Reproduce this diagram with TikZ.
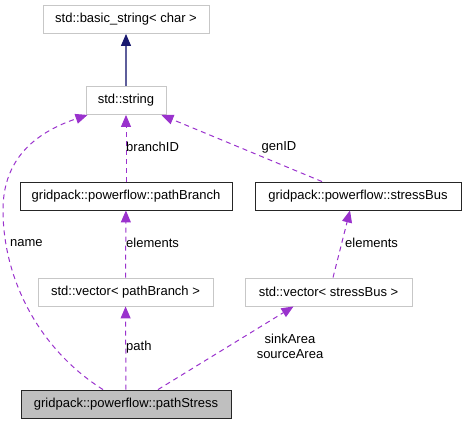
\documentclass[tikz,border=0pt]{standalone}
\usepackage{fontspec}
\setmainfont{Liberation Sans}
\usetikzlibrary{arrows.meta}
\definecolor{edgepurple}{HTML}{9A32CD}
\definecolor{edgeblue}{HTML}{191970}
\definecolor{boxgray}{HTML}{BFBFBF}
\tikzset{
  classbox/.style={draw=black!85, line width=0.9pt, minimum height=28pt, inner sep=0pt, font=\fontsize{13}{15}\selectfont},
  extbox/.style={classbox, draw=black!22},
  usage/.style={edgepurple, dash pattern=on 5pt off 4pt, line width=1pt, -{Triangle[length=12pt,width=10pt]}},
  inherit/.style={edgeblue!70, line width=1.2pt, -{Triangle[length=12pt,width=10pt,color=edgeblue]}},
  edgelabel/.style={font=\fontsize{13}{15}\selectfont, inner sep=0pt}
}
\begin{document}
\begin{tikzpicture}[x=1pt, y=-1pt]
  \useasboundingbox (0,0) rectangle (466,424);
  \node[extbox, minimum width=166pt] (base) at (126,19.5) {std::basic\_string< char >};
  \node[extbox, minimum width=80pt] (str) at (126,100.5) {std::string};
  \node[classbox, minimum width=212pt] (branch) at (126,196) {gridpack::powerflow::pathBranch};
  \node[classbox, minimum width=206pt] (bus) at (358,196) {gridpack::powerflow::stressBus};
  \node[extbox, minimum width=175pt] (vbranch) at (125.5,292) {std::vector< pathBranch >};
  \node[extbox, minimum width=167pt] (vbus) at (328.5,292) {std::vector< stressBus >};
  \node[classbox, fill=boxgray, minimum width=210pt] (stress) at (126,404) {gridpack::powerflow::pathStress};
  \draw[inherit] (str) -- (base);
  \draw[usage] (branch) -- (str);
  \draw[usage] ([xshift=-36pt]bus.north) -- ([xshift=-5pt]str.south east);
  \draw[usage] ([xshift=-23pt]stress.north) .. controls (40,350) and (3,280) .. (3,210) .. controls (3,165) and (28,135) .. ([xshift=2pt]str.south west);
  \draw[usage] (vbranch) -- (branch);
  \draw[usage] ([xshift=4.5pt]vbus.north) -- ([xshift=-8pt]bus.south);
  \draw[usage] (stress) -- (vbranch);
  \draw[usage] ([xshift=32pt]stress.north) -- ([xshift=-35pt]vbus.south);
  \node[edgelabel, anchor=west] (lbranchid) at (126,147) {branchID};
  \node[edgelabel] (lgenid) at (279,147) {genID};
  \node[edgelabel, anchor=west] (lname) at (10,243) {name};
  \node[edgelabel, anchor=west] (lelemleft) at (126,243) {elements};
  \node[edgelabel, anchor=west] (lelemright) at (345,243) {elements};
  \node[edgelabel, anchor=west] (lpath) at (126,347) {path};
  \node[edgelabel, align=center] (larea) at (290,346) {sinkArea\\sourceArea};
\end{tikzpicture}
\end{document}
